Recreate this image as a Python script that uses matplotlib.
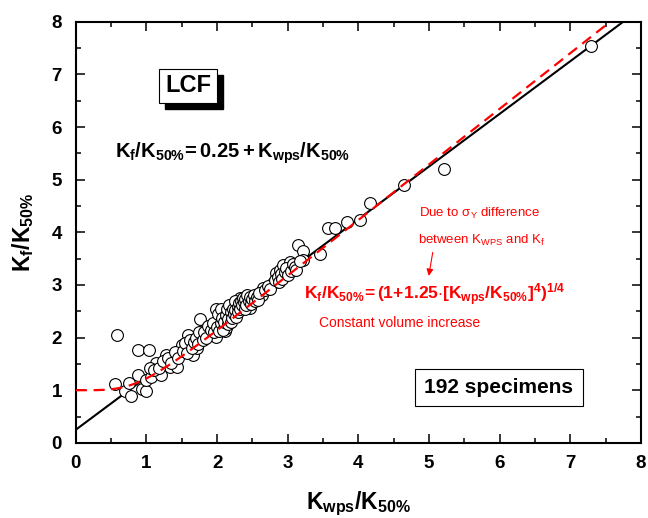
import numpy as np
import matplotlib
matplotlib.use("Agg")
import matplotlib.pyplot as plt
from matplotlib.ticker import MultipleLocator
from matplotlib.transforms import offset_copy

plt.rcParams['font.family'] = ['Liberation Sans', 'DejaVu Sans']
plt.rcParams['mathtext.fontset'] = 'custom'
plt.rcParams['mathtext.rm'] = 'Liberation Sans'
plt.rcParams['mathtext.it'] = 'Liberation Sans:italic'
plt.rcParams['mathtext.bf'] = 'Liberation Sans:bold'
plt.rcParams['mathtext.sf'] = 'Liberation Sans'

# K_wps/K_50% and K_f/K_50%
kwps = [0.58, 0.55, 0.69, 0.78, 0.76, 0.88, 0.88, 1.04, 0.94, 1.00, 0.99, 1.07,
        1.14, 1.05, 1.21, 1.28, 1.33, 1.43, 1.38, 1.47, 1.50, 1.59, 1.61, 1.66,
        1.71, 1.76, 1.78, 1.85, 1.90, 1.98, 1.99, 2.04, 2.09, 2.11, 2.13, 2.18,
        2.23, 2.28, 2.32, 2.37, 2.44, 2.46, 2.42, 2.65, 2.63, 2.79, 2.84, 2.89,
        2.94, 3.03, 3.01, 3.06, 3.15, 3.22, 3.22, 3.46, 3.57, 3.67, 3.84, 4.02,
        4.16, 4.65, 5.21, 7.29,
        1.10, 1.18, 1.24, 1.30, 1.35, 1.40, 1.45, 1.52, 1.55, 1.57, 1.62, 1.64,
        1.68, 1.70, 1.73, 1.74, 1.80, 1.82, 1.84, 1.87, 1.92, 1.94, 1.96, 2.00,
        2.01, 2.03, 2.05, 2.06, 2.07, 2.08, 2.10, 2.12, 2.14, 2.15, 2.16, 2.17,
        2.19, 2.20, 2.21, 2.22, 2.24, 2.25, 2.26, 2.27, 2.29, 2.30, 2.31, 2.33,
        2.34, 2.35, 2.36, 2.38, 2.39, 2.40, 2.41, 2.43, 2.45, 2.47, 2.48, 2.50,
        2.52, 2.54, 2.56, 2.58, 2.60, 2.68, 2.72, 2.75, 2.82, 2.86, 2.88, 2.91,
        2.92, 2.96, 2.98, 3.00, 3.04, 3.08, 3.10, 3.12, 3.18]
kf = [2.05, 1.12, 0.98, 0.90, 1.14, 1.29, 1.77, 1.77, 1.02, 0.98, 1.20, 1.26,
      1.51, 1.43, 1.29, 1.67, 1.45, 1.45, 1.59, 1.70, 1.86, 2.05, 1.86, 1.67,
      1.80, 2.36, 2.02, 2.15, 2.05, 2.54, 2.02, 2.34, 2.50, 2.12, 2.18, 2.40,
      2.60, 2.66, 2.75, 2.59, 2.76, 2.56, 2.69, 2.94, 2.81, 3.04, 3.23, 3.29,
      3.38, 3.43, 3.29, 3.32, 3.76, 3.64, 3.48, 3.59, 4.08, 4.08, 4.19, 4.23,
      4.56, 4.89, 5.20, 7.53,
      1.38, 1.42, 1.55, 1.62, 1.52, 1.72, 1.62, 1.75, 1.90, 1.70, 1.95, 1.80,
      1.92, 2.00, 1.88, 2.10, 1.95, 2.10, 2.00, 2.22, 2.15, 2.28, 2.10, 2.20,
      2.45, 2.12, 2.28, 2.55, 2.38, 2.15, 2.30, 2.42, 2.55, 2.25, 2.35, 2.62,
      2.30, 2.48, 2.38, 2.55, 2.45, 2.70, 2.52, 2.40, 2.58, 2.48, 2.65, 2.55,
      2.70, 2.62, 2.76, 2.68, 2.55, 2.74, 2.62, 2.80, 2.70, 2.78, 2.64, 2.74,
      2.80, 2.70, 2.78, 2.72, 2.84, 2.90, 2.98, 2.92, 3.10, 3.15, 3.05, 3.20,
      3.12, 3.25, 3.32, 3.18, 3.26, 3.40, 3.35, 3.28, 3.45]

xx = np.linspace(0, 8, 400)
fit_line = 0.25 + xx
vol_curve = (1 + 1.25 * xx**4) ** 0.25

fig = plt.figure(figsize=(6.48, 5.18), dpi=100)
ax = fig.add_axes([0.117, 0.145, 0.872, 0.813])

ax.plot(xx, fit_line, color='black', lw=1.5, zorder=2)
ax.plot(kwps, kf, 'o', ms=8.5, mfc='white', mec='black', mew=0.8, zorder=3)
ax.plot(xx, vol_curve, color='red', lw=1.6, ls=(0, (5, 3)), zorder=4)

ax.set_xlim(0, 8)
ax.set_ylim(0, 8)
ax.xaxis.set_major_locator(MultipleLocator(1))
ax.xaxis.set_minor_locator(MultipleLocator(0.5))
ax.yaxis.set_major_locator(MultipleLocator(1))
ax.yaxis.set_minor_locator(MultipleLocator(0.5))
ax.tick_params(which='both', direction='in', top=True, right=True, width=1.1)
ax.tick_params(which='major', length=6.5)
ax.tick_params(which='minor', length=3.6)
ax.tick_params(axis='x', pad=9)
ax.tick_params(axis='y', pad=10)
for lab in ax.get_xticklabels() + ax.get_yticklabels():
    lab.set_fontsize(13.5)
    lab.set_fontweight('bold')
for sp in ax.spines.values():
    sp.set_linewidth(1.5)

ax.set_xlabel(r'$\mathbf{K_{wps}/K_{50\%}}$', fontsize=16.5)
ax.set_ylabel(r'$\mathbf{K_f/K_{50\%}}$', fontsize=16.5)
ax.xaxis.set_label_coords(0.5, -0.11)
ax.yaxis.set_label_coords(-0.07, 0.5)

# LCF box with shadow
shadow = offset_copy(ax.transData, fig=fig, x=6, y=-6, units='dots')
ax.text(1.59, 6.78, 'LCF', transform=shadow, fontsize=17, fontweight='bold',
        color='black', ha='center', va='center',
        bbox=dict(boxstyle='square,pad=0.25', fc='black', ec='black'))
ax.text(1.59, 6.78, 'LCF', fontsize=17, fontweight='bold', ha='center', va='center',
        bbox=dict(boxstyle='square,pad=0.25', fc='white', ec='black', lw=0.8))

ax.text(0.55, 5.41, r'$\mathbf{K_f/K_{50\%}\!= 0.25 + K_{wps}/K_{50\%}}$', fontsize=14.5,
        ha='left', va='baseline')

ax.text(4.86, 4.29, r'Due to $\mathrm{\sigma_Y}$ difference', fontsize=9.5, color='red',
        ha='left', va='baseline')
ax.text(4.84, 3.78, r'between $\mathrm{K_{WPS}}$ and $\mathrm{K_f}$', fontsize=9.5,
        color='red', ha='left', va='baseline')
ax.annotate('', xy=(4.99, 3.12), xytext=(5.06, 3.67),
            arrowprops=dict(arrowstyle='-|>', color='red', lw=0.8,
                            mutation_scale=10))
ax.text(3.23, 2.72,
        r'$\mathbf{K_f/K_{50\%}\!= (1\!+\!1.25{\cdot}[K_{wps}/K_{50\%}]^4)^{1/4}}$',
        fontsize=12.5, color='red', ha='left', va='baseline')
ax.text(3.45, 2.21, 'Constant volume increase', fontsize=10, color='red',
        ha='left', va='baseline')

ax.text(5.99, 1.05, '192 specimens', fontsize=15, fontweight='bold',
        ha='center', va='center',
        bbox=dict(boxstyle='square,pad=0.45', fc='white', ec='black', lw=0.8))

fig.savefig('out.png', dpi=100)
